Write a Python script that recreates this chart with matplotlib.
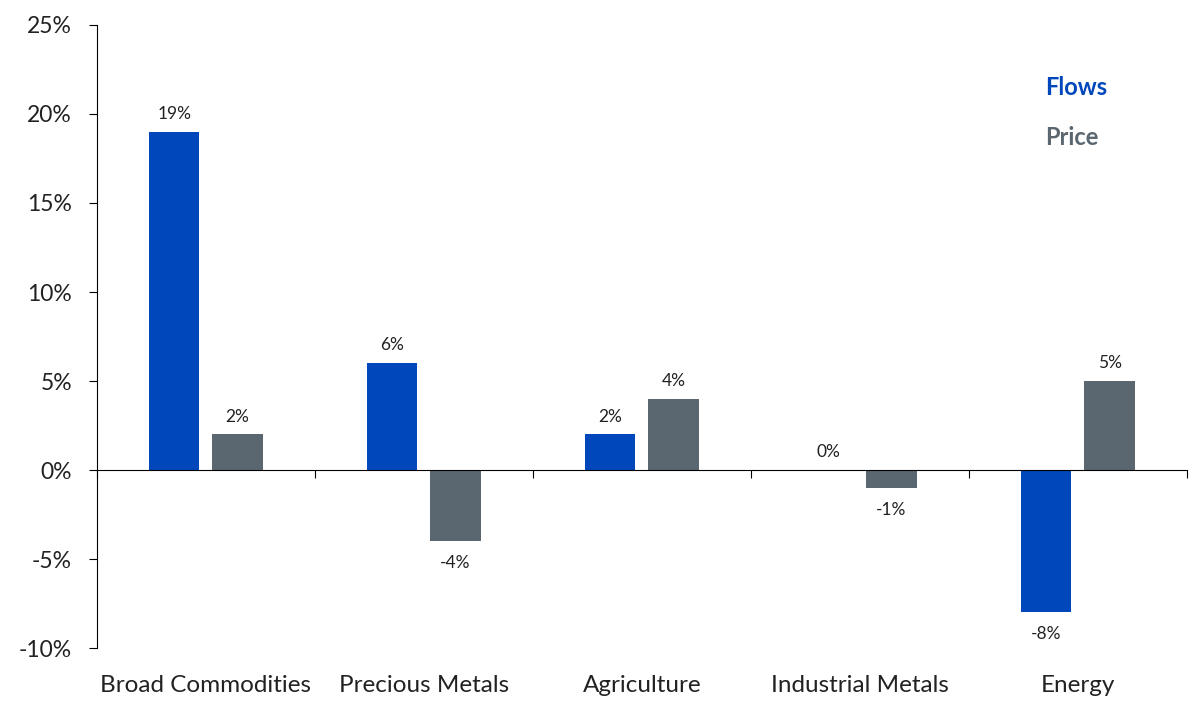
import matplotlib.pyplot as plt
import numpy as np

# chart data
categories = ['Broad Commodities', 'Precious Metals', 'Agriculture', 'Industrial Metals', 'Energy']
flows = [19, 6, 2, 0, -8]
price = [2, -4, 4, -1, 5]

blue = '#0047BB'
grey = '#5B6770'

plt.rcParams['font.family'] = ['Lato', 'DejaVu Sans']

fig = plt.figure(figsize=(12, 7.1), dpi=100)
ax = fig.add_axes([0.0808, 0.0873, 0.9083, 0.8775])

x = np.arange(len(categories))
w = 0.23
off = 0.145
b1 = ax.bar(x - off, flows, w, color=blue, zorder=2)
b2 = ax.bar(x + off, price, w, color=grey, zorder=2)

# value labels above positive bars, below negative ones
for bars, vals in [(b1, flows), (b2, price)]:
    for bar, v in zip(bars, vals):
        xc = bar.get_x() + bar.get_width() / 2
        if v >= 0:
            ax.annotate(f'{v}%', (xc, v), xytext=(0, 7), textcoords='offset points',
                        ha='center', va='bottom', fontsize=12.5, color='#222222')
        else:
            ax.annotate(f'{v}%', (xc, v), xytext=(0, -10), textcoords='offset points',
                        ha='center', va='top', fontsize=12.5, color='#222222')

ax.set_xlim(-0.5, len(categories) - 0.5)
ax.set_ylim(-10, 25)
ax.set_yticks(np.arange(-10, 26, 5))
ax.set_yticklabels([f'{t}%' for t in range(-10, 26, 5)], fontsize=16.5, color='#222222')

for s in ['top', 'right']:
    ax.spines[s].set_visible(False)
ax.spines['bottom'].set_position(('data', 0))
ax.spines['bottom'].set_color('black')
ax.spines['left'].set_color('black')
ax.set_xticks(np.arange(-0.5, len(categories), 1.0))
ax.set_xticklabels([])
ax.tick_params(axis='x', direction='out', length=6, color='black')
ax.tick_params(axis='y', direction='out', length=6, color='black', pad=12)

trans = ax.get_xaxis_transform()
for i, c in enumerate(categories):
    ax.text(i, -0.06, c, transform=trans, ha='center', va='center', fontsize=17.5, color='#222222')

# legend as coloured text
ax.text(0.87, 0.899, 'Flows', transform=ax.transAxes, color=blue, fontsize=17,
        fontweight='bold', va='center')
ax.text(0.87, 0.820, 'Price', transform=ax.transAxes, color=grey, fontsize=17,
        fontweight='bold', va='center')

fig.savefig('out.png', dpi=100)
